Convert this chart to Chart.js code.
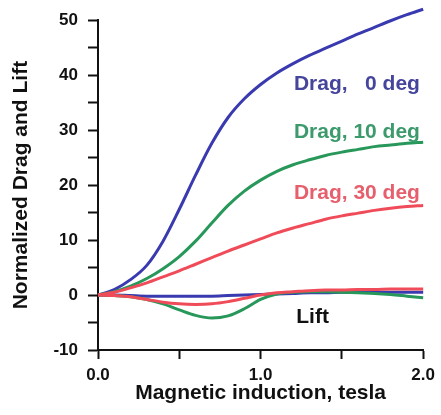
<!DOCTYPE html>
<html>
<head>
<meta charset="utf-8">
<script src="https://cdn.jsdelivr.net/npm/chart.js@4"></script>
<style>
    html, body { margin: 0; padding: 0; background: #fff; }
    #wrap { width: 441px; height: 415px; }
</style>
</head>
<body>
<div id="wrap"><canvas id="dragLiftChart" width="441" height="415"></canvas></div>
<script>
// Magnetic induction (tesla)
const induction = [0.0, 0.1, 0.2, 0.3, 0.4, 0.5, 0.6, 0.7, 0.8, 0.9, 1.0,
                   1.1, 1.2, 1.3, 1.4, 1.5, 1.6, 1.7, 1.8, 1.9, 2.0];

// Drag curves
const drag0 = [0, 1.0, 2.8, 5.4, 9.8, 15.6, 21.8, 27.6, 32.3, 35.7, 38.3,
               40.4, 42.1, 43.6, 44.9, 46.2, 47.5, 48.7, 49.9, 51.0, 52.0];
const drag10 = [0, 0.6, 1.6, 3.0, 4.8, 7.0, 9.8, 13.1, 16.3, 18.9, 20.9,
                22.5, 23.7, 24.6, 25.4, 26.0, 26.5, 27.0, 27.3, 27.6, 27.8];
const drag30 = [0, 0.5, 1.3, 2.2, 3.3, 4.4, 5.6, 6.8, 8.0, 9.1, 10.2,
                11.3, 12.2, 13.0, 13.8, 14.4, 14.9, 15.4, 15.8, 16.1, 16.3];

// Lift curves
const lift0 = [0, 0, -0.1, -0.2, -0.2, -0.2, -0.2, -0.2, -0.1, 0, 0.1,
               0.2, 0.3, 0.4, 0.4, 0.5, 0.5, 0.5, 0.5, 0.5, 0.5];
const lift10 = [0, -0.1, -0.3, -0.8, -1.6, -2.7, -3.7, -4.2, -3.8, -2.5, -0.8,
                0.2, 0.5, 0.6, 0.6, 0.5, 0.4, 0.3, 0.1, -0.2, -0.5];
const lift30 = [0, -0.1, -0.3, -0.8, -1.3, -1.6, -1.7, -1.6, -1.2, -0.6, 0,
                0.4, 0.6, 0.8, 0.9, 0.9, 1.0, 1.0, 1.1, 1.1, 1.1];

// Tick labels
const xTickValues = [0, 1, 2];
const xTickLabels = ['0.0', '1.0', '2.0'];
const yTickValues = [-10, 0, 10, 20, 30, 40, 50];
const yTickLabels = ['-10', '0', '10', '20', '30', '40', '50'];

// Curve labels [text, x, y, color, align]
const curveLabels = [
    ['Drag,   0 deg', 1.98, 38.4, '#45459c', 'right'],
    ['Drag, 10 deg', 1.98, 29.6, '#3c9a6c', 'right'],
    ['Drag, 30 deg', 1.98, 18.5, '#e65f6d', 'right'],
    ['Lift', 1.32, -4.1, '#111111', 'center']
];

const BLUE = '#3a3ab0';
const GREEN = '#27985a';
const RED = '#f04b58';
const FONT = '"Liberation Sans", Arial, sans-serif';

const toPoints = (ys) => induction.map((x, i) => ({ x: x, y: ys[i] }));

const lineSet = (label, ys, color) => ({
    label: label,
    data: toPoints(ys),
    borderColor: color,
    backgroundColor: color,
    borderWidth: 3,
    pointRadius: 0,
    cubicInterpolationMode: 'monotone',
    clip: false
});

// Draws the text labels next to the curves
const curveLabelPlugin = {
    id: 'curveLabels',
    afterDatasetsDraw(chart) {
        const { ctx, scales } = chart;
        ctx.save();
        ctx.font = 'bold 21px ' + FONT;
        ctx.textBaseline = 'middle';
        curveLabels.forEach(([text, x, y, color, align]) => {
            ctx.fillStyle = color;
            ctx.textAlign = align;
            ctx.fillText(text, scales.x.getPixelForValue(x), scales.y.getPixelForValue(y));
        });
        ctx.restore();
    }
};

new Chart(document.getElementById('dragLiftChart'), {
    type: 'line',
    data: {
        datasets: [
            lineSet('Lift, 30 deg', lift30, RED),
            lineSet('Drag, 30 deg', drag30, RED),
            lineSet('Lift, 10 deg', lift10, GREEN),
            lineSet('Drag, 10 deg', drag10, GREEN),
            lineSet('Lift, 0 deg', lift0, BLUE),
            lineSet('Drag, 0 deg', drag0, BLUE)
        ]
    },
    options: {
        responsive: false,
        animation: false,
        layout: {
            padding: { top: 16, right: 14, left: 0, bottom: 0 }
        },
        plugins: {
            legend: { display: false },
            tooltip: { enabled: false }
        },
        scales: {
            x: {
                type: 'linear',
                min: 0,
                max: 2,
                afterFit: (scale) => { scale.height = 65; },
                border: { display: true, color: '#111', width: 2 },
                grid: {
                    drawOnChartArea: false,
                    drawTicks: true,
                    tickLength: 9,
                    tickColor: '#111',
                    tickWidth: 2
                },
                ticks: {
                    stepSize: 0.5,
                    padding: 6,
                    maxRotation: 0,
                    color: '#111',
                    font: { family: FONT, size: 17, weight: 'bold' },
                    callback: function(value) {
                        const i = xTickValues.indexOf(value);
                        return i >= 0 ? xTickLabels[i] : '';
                    }
                },
                title: {
                    display: true,
                    text: 'Magnetic induction, tesla',
                    color: '#111',
                    padding: { top: 0, bottom: 9 },
                    font: { family: FONT, size: 21, weight: 'bold' }
                }
            },
            y: {
                min: -10,
                max: 50,
                afterFit: (scale) => { scale.width = 98; },
                border: { display: true, color: '#111', width: 2 },
                grid: {
                    drawOnChartArea: false,
                    drawTicks: true,
                    tickLength: 10,
                    tickColor: '#111',
                    tickWidth: 2
                },
                ticks: {
                    stepSize: 5,
                    padding: 10,
                    color: '#111',
                    font: { family: FONT, size: 17, weight: 'bold' },
                    callback: function(value) {
                        const i = yTickValues.indexOf(value);
                        return i >= 0 ? yTickLabels[i] : '';
                    }
                },
                title: {
                    display: true,
                    text: 'Normalized Drag and Lift',
                    color: '#111',
                    padding: { top: 9, bottom: 0 },
                    font: { family: FONT, size: 21, weight: 'bold' }
                }
            }
        }
    },
    plugins: [curveLabelPlugin]
});
</script>
</body>
</html>
